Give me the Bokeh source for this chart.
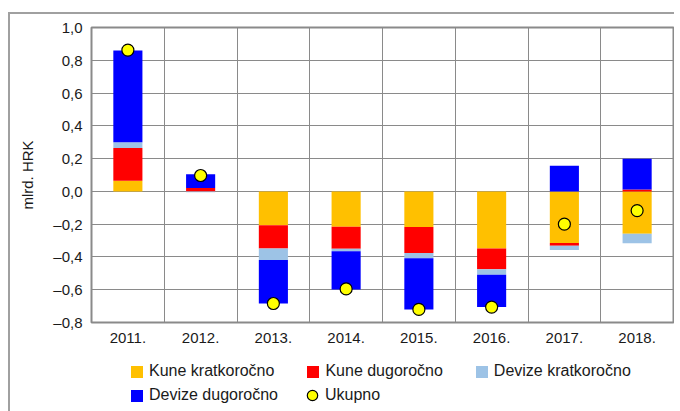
import numpy as np
from bokeh.plotting import figure
from bokeh.layouts import column
from bokeh.models import (ColumnDataSource, FixedTicker, CustomJSTickFormatter,
                          Legend, LegendItem, Range1d)
from bokeh.embed import file_html
from bokeh.resources import INLINE

years = ["2011.", "2012.", "2013.", "2014.", "2015.", "2016.", "2017.", "2018."]
kune_kratko = [0.065, 0.0, -0.207, -0.215, -0.217, -0.349, -0.315, -0.258]
kune_dugo = [0.200, 0.020, -0.142, -0.135, -0.159, -0.126, -0.016, 0.012]
devize_kratko = [0.035, -0.005, -0.070, -0.015, -0.032, -0.033, -0.026, -0.058]
devize_dugo = [0.560, 0.085, -0.265, -0.233, -0.312, -0.198, 0.156, 0.187]
ukupno = [0.862, 0.097, -0.684, -0.595, -0.720, -0.706, -0.200, -0.117]

series_names = ["Kune kratkoročno", "Kune dugoročno", "Devize kratkoročno", "Devize dugoročno"]
series_vals = [kune_kratko, kune_dugo, devize_kratko, devize_dugo]
colors = ["#FFC000", "#FF0000", "#9DC3E6", "#0000FF"]
y_ticks = [-0.8, -0.6, -0.4, -0.2, 0.0, 0.2, 0.4, 0.6, 0.8, 1.0]

FONT = "Liberation Sans"
GRID = "#8a8a8a"
TXT = "#1a1a1a"

p = figure(width=664, height=338, output_backend="svg", toolbar_location=None,
           x_range=Range1d(0.5, 8.5), y_range=Range1d(-0.8, 1.0),
           min_border_left=81, min_border_top=13, min_border_right=1, min_border_bottom=30)
p.background_fill_color = "white"
p.border_fill_color = "white"
p.outline_line_color = GRID
p.outline_line_width = 2

x = np.arange(1, len(years) + 1)
pos_base = np.zeros(len(years))
neg_base = np.zeros(len(years))
sources = []
for vals, col in zip(series_vals, colors):
    v = np.array(vals, dtype=float)
    bottom = np.where(v >= 0, pos_base, neg_base)
    top = bottom + v
    pos_base = np.where(v >= 0, top, pos_base)
    neg_base = np.where(v < 0, top, neg_base)
    src = ColumnDataSource(dict(x=x, bottom=bottom, top=top))
    sources.append(src)
    p.vbar(x="x", bottom="bottom", top="top", width=0.4, source=src,
           fill_color=col, line_color=None)

src_tot = ColumnDataSource(dict(x=x, y=ukupno))
p.scatter(x="x", y="y", source=src_tot, size=12, marker="circle",
          fill_color="#FFFF00", line_color="black", line_width=1.2)

# axes
p.xaxis.ticker = FixedTicker(ticks=list(x))
p.xaxis.formatter = CustomJSTickFormatter(args=dict(labels=years),
                                          code="return labels[Math.round(tick) - 1];")
p.yaxis.ticker = FixedTicker(ticks=y_ticks)
p.yaxis.formatter = CustomJSTickFormatter(
    code="var s = Math.abs(tick).toFixed(1).replace('.', ','); return (tick < -1e-9 ? '\u2013' : '') + s;")
for ax in (p.xaxis, p.yaxis):
    ax.axis_line_color = None
    ax.major_tick_line_color = None
    ax.minor_tick_line_color = None
    ax.major_tick_out = 0
    ax.major_tick_in = 0
    ax.major_label_text_font = FONT
    ax.major_label_text_font_size = "15px"
    ax.major_label_text_color = TXT
p.xaxis.major_label_standoff = 10
p.yaxis.major_label_standoff = 9
p.yaxis.axis_label = "mlrd. HRK"
p.yaxis.axis_label_text_font = FONT
p.yaxis.axis_label_text_font_size = "15px"
p.yaxis.axis_label_text_font_style = "normal"
p.yaxis.axis_label_text_color = TXT
p.yaxis.axis_label_standoff = 14

p.xgrid.ticker = FixedTicker(ticks=[0.5 + i for i in range(len(years) + 1)])
p.ygrid.ticker = FixedTicker(ticks=y_ticks)
for g in (p.xgrid, p.ygrid):
    g.grid_line_color = GRID
    g.grid_line_width = 1

# legend strip: same sources, viewed through a y range that shows none of the data,
# so only the legend entries are visible
leg = figure(width=664, height=59, output_backend="svg", toolbar_location=None,
             x_range=Range1d(0.5, 8.5), y_range=Range1d(10, 11),
             x_axis_type=None, y_axis_type=None,
             min_border_left=0, min_border_right=0, min_border_top=0, min_border_bottom=0)
leg.outline_line_color = None
leg.background_fill_color = "white"
leg.border_fill_color = "white"
leg.xgrid.visible = False
leg.ygrid.visible = False
items = []
for name, col, src in zip(series_names, colors, sources):
    r = leg.vbar(x="x", top="top", bottom="bottom", width=0.4, source=src,
                 fill_color=col, line_color=None)
    items.append(LegendItem(label=name, renderers=[r]))
rl = leg.scatter(x="x", y="y", source=src_tot, size=12, marker="circle",
                 fill_color="#FFFF00", line_color="black", line_width=1.2)
items.append(LegendItem(label="Ukupno", renderers=[rl]))

common = dict(orientation="horizontal", label_standoff=5, padding=0, margin=0,
              label_text_font=FONT, label_text_font_size="16px",
              label_text_color=TXT, background_fill_alpha=0,
              border_line_color=None, label_height=16)
legend1 = Legend(items=items[0:3], glyph_width=15, glyph_height=15, spacing=31,
                 location=(38, 31), **common)
legend2 = Legend(items=items[3:4], glyph_width=15, glyph_height=15, spacing=0,
                 location=(38, 7), **common)
common3 = dict(common)
common3["label_standoff"] = 0
legend3 = Legend(items=items[4:5], glyph_width=26, glyph_height=26, spacing=0,
                 location=(208, 3), **common3)
leg.add_layout(legend1)
leg.add_layout(legend2)
leg.add_layout(legend3)

layout = column(p, leg, spacing=0)
layout.styles = {"margin-left": "8px", "margin-top": "12px",
                 "border-left": "2px solid #a0a0a0", "border-top": "2px solid #a0a0a0"}

open("out.html", "w").write(file_html(layout, INLINE))
